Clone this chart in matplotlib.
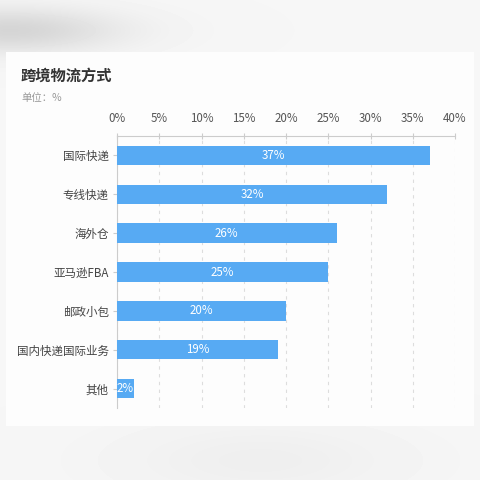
import matplotlib.pyplot as plt
import matplotlib.patches as patches
import numpy as np

plt.rcParams['font.family'] = ['Noto Sans CJK SC', 'DejaVu Sans']

categories = ['国际快递', '专线快递', '海外仓', '亚马逊FBA', '邮政小包', '国内快递国际业务', '其他']
values = [37, 32, 26, 25, 20, 19, 2]
xticks = [0, 5, 10, 15, 20, 25, 30, 35, 40]

fig = plt.figure(figsize=(4.8, 4.8), dpi=100)
fig.patch.set_facecolor('#f4f4f4')

# soft grey blur at the top-left, like the screenshot
bg = fig.add_axes([0, 0, 1, 1], zorder=-2)
yy, xx = np.mgrid[0:480, 0:480]
shade = 0.965 - 0.13 * np.exp(-((xx - 10) ** 2 / 12000 + (yy - 30) ** 2 / 500))
shade -= 0.03 * np.exp(-((xx - 260) ** 2 / 20000 + (yy - 460) ** 2 / 1500))
bg.imshow(shade, cmap='gray', vmin=0, vmax=1, extent=[0, 480, 480, 0], aspect='auto')
bg.add_patch(patches.Rectangle((6, 52), 468, 374, facecolor='#fdfdfd', edgecolor='none'))
bg.set_xlim(0, 480)
bg.set_ylim(480, 0)
bg.axis('off')

fig.text(21 / 480, 1 - 76 / 480, '跨境物流方式', fontsize=11, fontweight='bold',
         color='#333333', va='center', ha='left')
fig.text(21 / 480, 1 - 98 / 480, '单位：%', fontsize=7.5, color='#999999',
         va='center', ha='left')

ax = fig.add_axes([117 / 480, 1 - 408 / 480, (455 - 117) / 480, (408 - 136) / 480])
ax.set_facecolor('none')
y = np.arange(len(categories))
ax.barh(y, values, height=0.5, color='#57aaf3', zorder=3)
for yi, v in zip(y, values):
    ax.text(v / 2, yi, f'{v}%', color='white', fontsize=8.3, ha='center', va='center', zorder=4)

ax.set_xlim(0, 40)
ax.set_ylim(len(categories) - 0.5, -0.5)
ax.set_yticks(y)
ax.set_yticklabels(categories, fontsize=8.3, color='#444444')
ax.set_xticks(xticks)
ax.set_xticklabels([f'{t}%' for t in xticks], fontsize=8.3, color='#555555')
ax.xaxis.tick_top()
ax.tick_params(axis='x', length=4, color='#cccccc', pad=6, direction='inout')
ax.tick_params(axis='y', length=3, color='#cccccc', pad=3)
ax.grid(axis='x', linestyle=(0, (3, 4)), color='#dddddd', linewidth=0.8, zorder=0)
for s in ['right', 'bottom']:
    ax.spines[s].set_visible(False)
for s in ['top', 'left']:
    ax.spines[s].set_color('#cccccc')
    ax.spines[s].set_linewidth(0.8)

fig.savefig('out.png', dpi=100)
